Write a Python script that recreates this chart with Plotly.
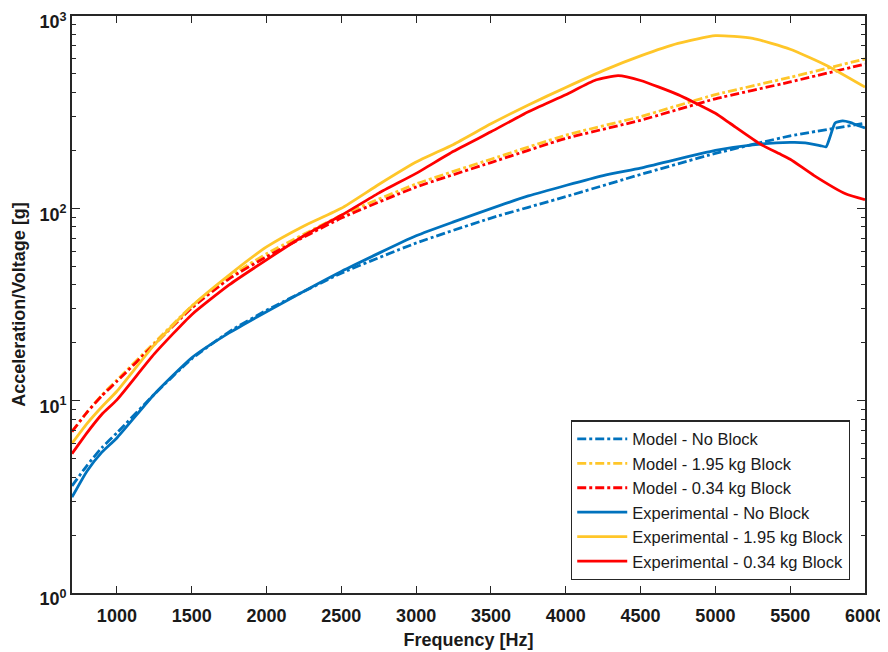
import plotly.graph_objects as go

# ---- data ----
freq_model = [700, 800, 900, 1000, 1250, 1500, 1750, 2000, 2500, 3000, 3500, 4000, 4500, 5000, 5500, 6000]
model_no_block = [3.6, 4.6, 5.7, 6.8, 10.8, 16.5, 22.8, 29.5, 46, 66, 89, 115, 150, 193, 238, 277]
model_195 = [6.9, 8.7, 10.7, 12.8, 20, 31, 44, 58, 92, 134, 180, 240, 300, 390, 480, 598]
model_034 = [6.9, 8.7, 10.6, 12.6, 19.6, 30.3, 43, 56, 89, 129, 173, 231, 287, 371, 454, 563]

freq_exp_nb = [700, 800, 900, 1000, 1250, 1500, 1750, 2000, 2500, 3000, 3250, 3750, 4250, 4500,
               5000, 5250, 5500, 5600, 5700, 5740, 5770, 5800, 5850, 5900, 5950, 6000]
exp_no_block = [3.15, 4.3, 5.4, 6.4, 10.8, 16.7, 22.5, 29, 47, 72, 85, 116, 148, 162,
                200, 214, 220, 219, 212, 209, 240, 278, 285, 280, 270, 262]

freq_exp_195 = [700, 800, 900, 1000, 1250, 1500, 1750, 2000, 2250, 2500, 2750, 3000, 3250, 3500,
                3750, 4000, 4250, 4500, 4750, 5000, 5250, 5500, 5750, 6000]
exp_195 = [6.0, 7.6, 9.3, 11.2, 19.5, 31, 45, 63, 81, 100, 133, 174, 215, 275,
           345, 425, 520, 620, 720, 790, 765, 672, 550, 427]

freq_exp_034 = [700, 800, 900, 1000, 1250, 1500, 1750, 2000, 2250, 2500, 2750, 3000, 3250, 3500,
                3750, 4000, 4200, 4350, 4500, 4750, 5000, 5100, 5300, 5430, 5500, 5660, 5870, 6000]
exp_034 = [5.3, 6.8, 8.5, 10.1, 17.5, 28, 40, 54, 72, 92, 120, 152, 198, 250,
           318, 390, 465, 490, 462, 390, 312, 276, 216, 192, 180, 148, 119, 111]

series_names = ["Model - No Block", "Model - 1.95 kg Block", "Model - 0.34 kg Block",
                "Experimental - No Block", "Experimental - 1.95 kg Block", "Experimental - 0.34 kg Block"]

x_ticks = [1000, 1500, 2000, 2500, 3000, 3500, 4000, 4500, 5000, 5500, 6000]
y_ticks = [1, 10, 100, 1000]
y_ticktext = ["10<sup>0</sup>", "10<sup>1</sup>", "10<sup>2</sup>", "10<sup>3</sup>"]
y_minor = [m * d for d in (1, 10, 100) for m in range(2, 10)]

BLUE = "#0072BD"
YELLOW = "#FFC629"
RED = "#FF0000"
FONT = "Liberation Sans, Arial, sans-serif"

fig = go.Figure()
specs = [
    (freq_model, model_no_block, BLUE, "dashdot"),
    (freq_model, model_195, YELLOW, "dashdot"),
    (freq_model, model_034, RED, "dashdot"),
    (freq_exp_nb, exp_no_block, BLUE, "solid"),
    (freq_exp_195, exp_195, YELLOW, "solid"),
    (freq_exp_034, exp_034, RED, "solid"),
]
for (xs, ys, col, dash), name in zip(specs, series_names):
    fig.add_trace(go.Scatter(
        x=xs, y=ys, mode="lines", name=name,
        line=dict(color=col, width=2.8, dash=dash, shape="spline", smoothing=0.5),
    ))

axis_common = dict(
    showline=True, linecolor="#262626", linewidth=1.6, mirror="ticks",
    ticks="inside", tickcolor="#262626", tickwidth=1.3, showgrid=False, zeroline=False,
    automargin=False, ticklabeloverflow="allow",
    tickfont=dict(family=FONT, size=18, color="#1a1a1a", weight="bold"),
)

# page body has an 8px margin, so the figure is sized/offset to compensate
fig.update_layout(
    width=880, height=644,
    margin=dict(l=64, r=23, t=8, b=59, autoexpand=False),
    paper_bgcolor="white", plot_bgcolor="white",
    font=dict(family=FONT, color="#1a1a1a"),
    showlegend=True,
    legend=dict(
        x=0.981, y=0.022, xanchor="right", yanchor="bottom",
        bgcolor="white", bordercolor="#262626", borderwidth=1.3,
        font=dict(family=FONT, size=16.5, color="#1a1a1a"),
        tracegroupgap=0, itemwidth=50,
    ),
)
fig.update_xaxes(
    range=[700, 6000], tickmode="array", tickvals=x_ticks, ticklen=7, ticklabelstandoff=6,
    title=dict(text="Frequency [Hz]", font=dict(family=FONT, size=18, weight="bold"), standoff=8),
    **axis_common,
)
fig.update_yaxes(
    type="log", range=[0, 3], tickmode="array", tickvals=y_ticks, ticktext=y_ticktext, ticklen=8,
    ticklabelshift=6,
    minor=dict(tickmode="array", tickvals=y_minor, ticks="inside", ticklen=4,
               tickcolor="#262626", tickwidth=1.2, showgrid=False),
    title=dict(text="Acceleration/Voltage [g]", font=dict(family=FONT, size=18, weight="bold"), standoff=9),
    **axis_common,
)

fig.write_html("out.html")
